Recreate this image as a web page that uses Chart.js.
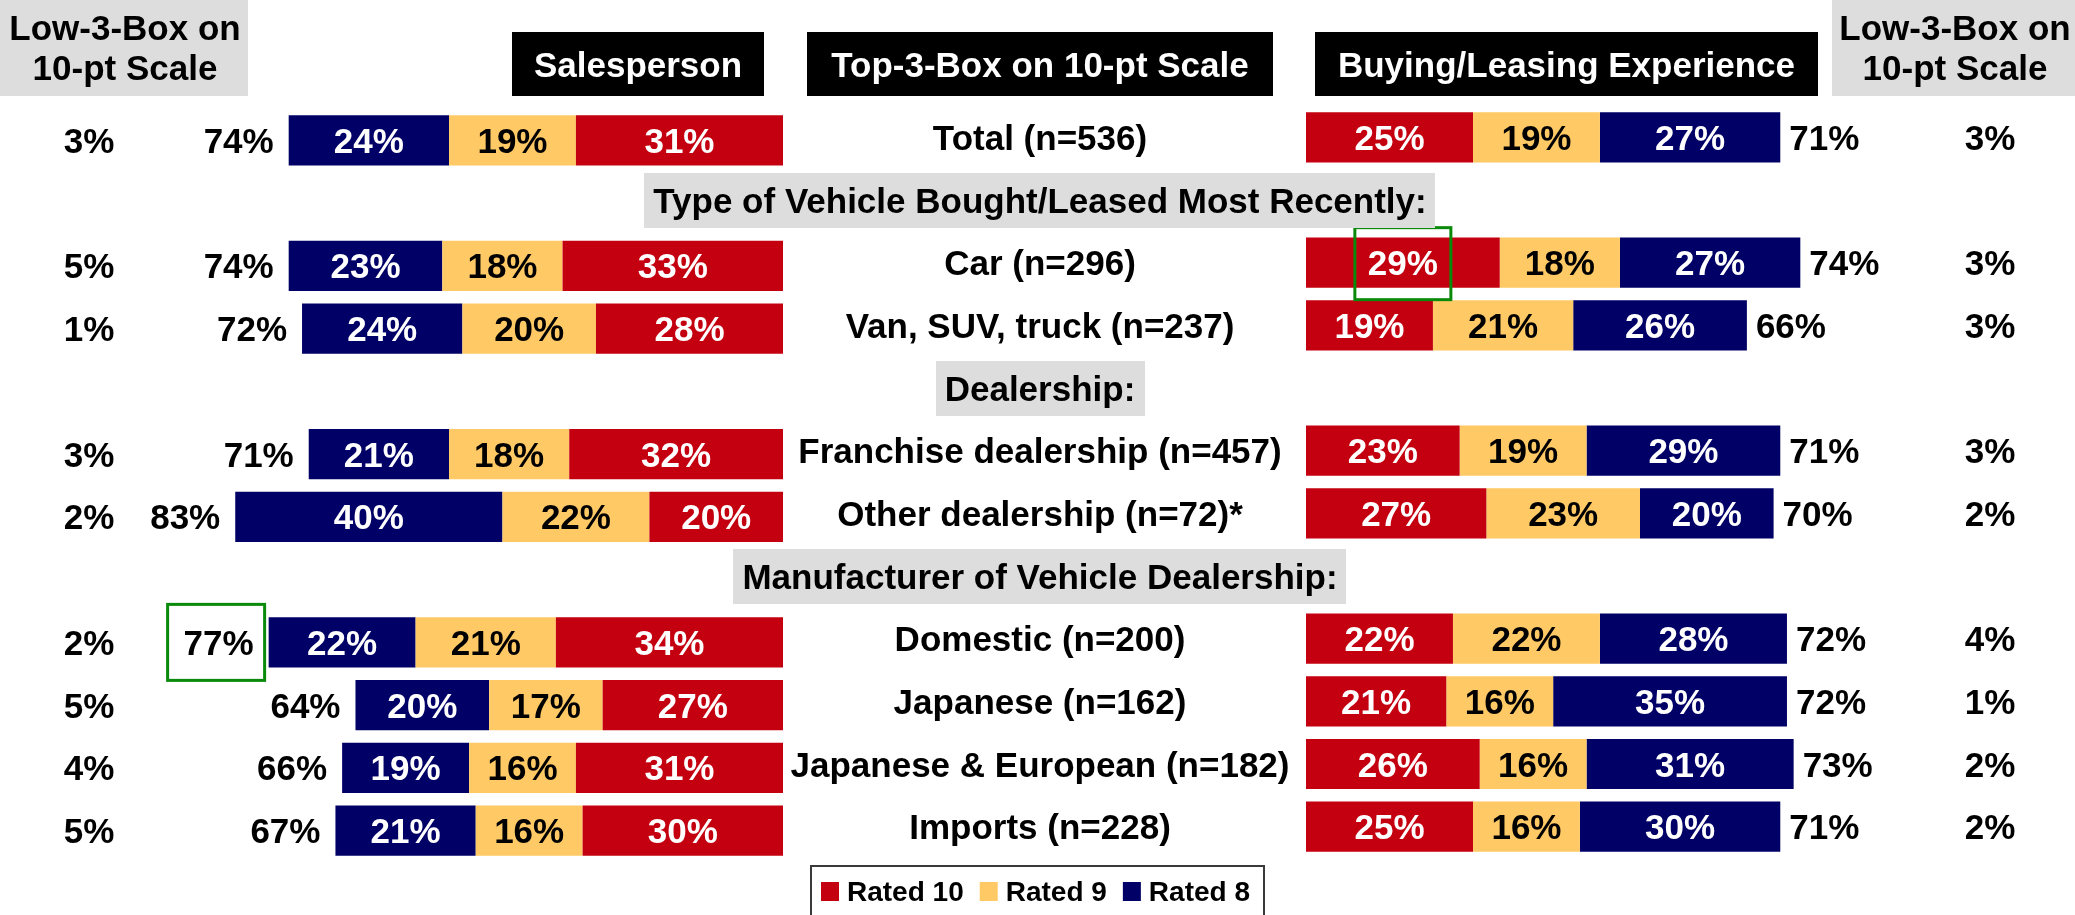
<!DOCTYPE html>
<html>
<head>
<meta charset="utf-8">
<script src="https://cdn.jsdelivr.net/npm/chart.js@4.4.1/dist/chart.umd.min.js"></script>
<style>
html,body{margin:0;padding:0;background:#fff;overflow:hidden;}
#wrap{position:relative;width:2075px;height:915px;background:#fff;}
#wrap canvas{position:absolute;left:0;top:0;}
</style>
</head>
<body>
<div id="wrap">
  <canvas id="leftChart" width="2075" height="915"></canvas>
  <canvas id="rightChart" width="2075" height="915"></canvas>
</div>
<script>
// ---------------- DATA ----------------
const categories = [
  'Total (n=536)',
  'Type of Vehicle Bought/Leased Most Recently:',
  'Car (n=296)',
  'Van, SUV, truck (n=237)',
  'Dealership:',
  'Franchise dealership (n=457)',
  'Other dealership (n=72)*',
  'Manufacturer of Vehicle Dealership:',
  'Domestic (n=200)',
  'Japanese (n=162)',
  'Japanese & European (n=182)',
  'Imports (n=228)'
];
const headerRows = [1, 4, 7];
const seriesNames = ['Rated 10', 'Rated 9', 'Rated 8'];

// Salesperson (left panel)
const salesRated10 = [31, null, 33, 28, null, 32, 20, null, 34, 27, 31, 30];
const salesRated9  = [19, null, 18, 20, null, 18, 22, null, 21, 17, 16, 16];
const salesRated8  = [24, null, 23, 24, null, 21, 40, null, 22, 20, 19, 21];
const salesTop3    = [74, null, 74, 72, null, 71, 83, null, 77, 64, 66, 67];
const salesLow3    = [3,  null, 5,  1,  null, 3,  2,  null, 2,  5,  4,  5];

// Buying/Leasing Experience (right panel)
const expRated10 = [25, null, 29, 19, null, 23, 27, null, 22, 21, 26, 25];
const expRated9  = [19, null, 18, 21, null, 19, 23, null, 22, 16, 16, 16];
const expRated8  = [27, null, 27, 26, null, 29, 20, null, 28, 35, 31, 30];
const expTop3    = [71, null, 74, 66, null, 71, 70, null, 72, 72, 73, 71];
const expLow3    = [3,  null, 3,  3,  null, 3,  2,  null, 4,  1,  2,  2];

// Header texts
const leftPanelTitle = 'Salesperson';
const centerTitle = 'Top-3-Box on 10-pt Scale';
const rightPanelTitle = 'Buying/Leasing Experience';
const lowBoxTitle = ['Low-3-Box on', '10-pt Scale'];

// Highlights (green frames)
const highlightLeftTop3Row = 8;                 // Domestic, 77%
const highlightRight = { dataset: 0, row: 2 };  // Car, Rated 10 = 29%

// ---------------- STYLE ----------------
const RED = '#C40010', YELLOW = '#FFCA66', NAVY = '#000066', GRAY = '#DDDDDD', GREEN = '#0A8A0A';
const FAM = '"Liberation Sans", Arial, Helvetica, sans-serif';
const FONT = 'bold 35px ' + FAM;
const CAP_HALF = 12.5;
const CENTER_X = 1040;
const scaleMax = 100;

function makeDatasets(d10, d9, d8) {
  const common = { borderWidth: 0, barPercentage: 0.8, categoryPercentage: 1.0 };
  return [
    Object.assign({ label: seriesNames[0], data: d10, backgroundColor: RED, labelColor: '#fff' }, common),
    Object.assign({ label: seriesNames[1], data: d9, backgroundColor: YELLOW, labelColor: '#000' }, common),
    Object.assign({ label: seriesNames[2], data: d8, backgroundColor: NAVY, labelColor: '#fff' }, common)
  ];
}

const barLabelPlugin = {
  id: 'barLabels',
  afterDatasetsDraw(chart) {
    const ctx = chart.ctx;
    ctx.save();
    ctx.font = FONT;
    ctx.textAlign = 'center';
    ctx.textBaseline = 'alphabetic';
    chart.data.datasets.forEach((ds, di) => {
      const meta = chart.getDatasetMeta(di);
      meta.data.forEach((el, i) => {
        const v = ds.data[i];
        if (v == null) return;
        const p = el.getProps(['x', 'base', 'y'], true);
        ctx.fillStyle = ds.labelColor;
        ctx.fillText(v + '%', (p.x + p.base) / 2, p.y + CAP_HALF);
      });
    });
    ctx.restore();
  }
};

function sidePlugin(top3, low3, low3X, side) {
  return {
    id: 'side_' + side,
    afterDraw(chart) {
      const ctx = chart.ctx;
      const ys = chart.scales.y;
      const lastMeta = chart.getDatasetMeta(chart.data.datasets.length - 1);
      ctx.save();
      ctx.font = FONT;
      ctx.fillStyle = '#000';
      ctx.textBaseline = 'alphabetic';
      top3.forEach((v, i) => {
        if (v == null) return;
        const el = lastMeta.data[i];
        const cy = ys.getPixelForValue(i);
        const txt = v + '%';
        if (side === 'left') {
          ctx.textAlign = 'right';
          const tx = el.x - 15;
          ctx.fillText(txt, tx, cy + CAP_HALF);
          if (i === highlightLeftTop3Row) {
            const w = ctx.measureText(txt).width;
            const cx = tx - w / 2 - 3;
            ctx.strokeStyle = GREEN;
            ctx.lineWidth = 3;
            ctx.strokeRect(cx - 48, cy - 38, 97, 76);
          }
        } else {
          ctx.textAlign = 'left';
          ctx.fillText(txt, el.x + 9, cy + CAP_HALF);
        }
      });
      ctx.textAlign = 'center';
      low3.forEach((v, i) => {
        if (v == null) return;
        ctx.fillText(v + '%', low3X, ys.getPixelForValue(i) + CAP_HALF);
      });
      if (side === 'right') {
        const el = chart.getDatasetMeta(highlightRight.dataset).data[highlightRight.row];
        const p = el.getProps(['x', 'base', 'y'], true);
        const cx = (p.x + p.base) / 2;
        ctx.strokeStyle = GREEN;
        ctx.lineWidth = 3;
        ctx.strokeRect(cx - 48, p.y - 35, 96, 72);
      }
      ctx.restore();
    }
  };
}

const centerPlugin = {
  id: 'centerLabels',
  afterDraw(chart) {
    const ctx = chart.ctx;
    const ys = chart.scales.y;
    ctx.save();
    ctx.font = FONT;
    ctx.textAlign = 'center';
    ctx.textBaseline = 'alphabetic';
    categories.forEach((c, i) => {
      const cy = ys.getPixelForValue(i);
      if (headerRows.includes(i)) {
        const w = ctx.measureText(c).width + 18;
        ctx.fillStyle = GRAY;
        ctx.fillRect(Math.round(CENTER_X - w / 2), Math.round(cy - 27.5), Math.round(w), 55);
      }
      ctx.fillStyle = '#000';
      ctx.fillText(c, CENTER_X, cy + CAP_HALF);
    });

    // legend
    const lx = 811, ly = 866;
    ctx.strokeStyle = '#3a3a3a';
    ctx.lineWidth = 2;
    ctx.strokeRect(lx, ly, 453, 90);
    ctx.font = 'bold 28px ' + FAM;
    ctx.textAlign = 'left';
    let x = 821;
    chart.data.datasets.forEach(ds => {
      ctx.fillStyle = ds.backgroundColor;
      ctx.fillRect(x, 882, 18, 19);
      ctx.fillStyle = '#000';
      ctx.fillText(ds.label, x + 26, 901);
      x += 26 + ctx.measureText(ds.label).width + 16;
    });
    ctx.restore();
  }
};

const headerPlugin = {
  id: 'topHeaders',
  afterDraw(chart) {
    const ctx = chart.ctx;
    ctx.save();
    ctx.font = FONT;
    ctx.textAlign = 'center';
    ctx.textBaseline = 'alphabetic';
    // gray low-3-box boxes
    ctx.fillStyle = GRAY;
    ctx.fillRect(0, 0, 248, 96);
    ctx.fillRect(1832, 0, 243, 96);
    ctx.fillStyle = '#000';
    ctx.fillText(lowBoxTitle[0], 125, 40);
    ctx.fillText(lowBoxTitle[1], 125, 79.5);
    ctx.fillText(lowBoxTitle[0], 1955, 40);
    ctx.fillText(lowBoxTitle[1], 1955, 79.5);
    // black boxes
    const boxes = [[512, 764, leftPanelTitle], [807, 1273, centerTitle], [1315, 1818, rightPanelTitle]];
    boxes.forEach(b => {
      ctx.fillStyle = '#000';
      ctx.fillRect(b[0], 32, b[1] - b[0], 64);
      ctx.fillStyle = '#fff';
      ctx.fillText(b[2], (b[0] + b[1]) / 2, 77);
    });
    ctx.restore();
  }
};

function baseOptions(reverse, padding) {
  return {
    indexAxis: 'y',
    responsive: false,
    animation: false,
    devicePixelRatio: 1,
    layout: { padding: padding },
    plugins: { legend: { display: false }, tooltip: { enabled: false }, title: { display: false } },
    scales: {
      x: { type: 'linear', stacked: true, min: 0, max: scaleMax, reverse: reverse, display: false },
      y: { type: 'category', stacked: true, display: false, offset: true }
    }
  };
}

new Chart(document.getElementById('leftChart'), {
  type: 'bar',
  data: { labels: categories, datasets: makeDatasets(salesRated10, salesRated9, salesRated8) },
  options: baseOptions(true, { left: 115, right: 1292, top: 109, bottom: 53 }),
  plugins: [barLabelPlugin, sidePlugin(salesTop3, salesLow3, 89, 'left'), headerPlugin]
});

new Chart(document.getElementById('rightChart'), {
  type: 'bar',
  data: { labels: categories, datasets: makeDatasets(expRated10, expRated9, expRated8) },
  options: baseOptions(false, { left: 1306, right: 101, top: 106, bottom: 57 }),
  plugins: [barLabelPlugin, sidePlugin(expTop3, expLow3, 1990, 'right'), centerPlugin]
});
</script>
</body>
</html>
